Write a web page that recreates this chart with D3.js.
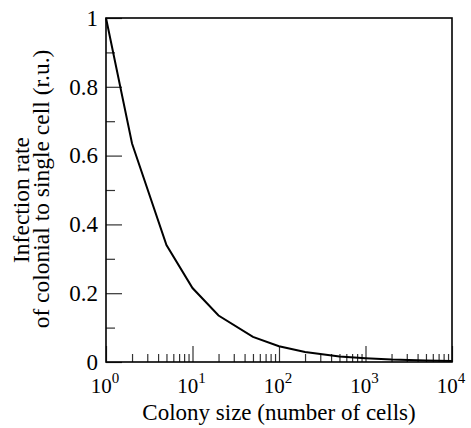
<!DOCTYPE html>
<html>
<head>
<meta charset="utf-8">
<script src="https://cdn.jsdelivr.net/npm/d3@7"></script>
<style>
html,body{margin:0;padding:0;background:#fff;}
svg{display:block;}
svg text{font-family:"Liberation Serif","DejaVu Serif","Times New Roman",Times,serif !important;fill:#000;}
</style>
</head>
<body>
<svg id="chart" width="471" height="428" font-family="Liberation Serif, DejaVu Serif, serif"></svg>
<script>
const sizes = [1, 2, 5, 10, 20, 50, 100, 200, 500, 1000, 2000, 5000, 10000];
const rates = [1, 0.635, 0.34, 0.215, 0.135, 0.073, 0.046, 0.029, 0.016, 0.011, 0.007, 0.004, 0.003];
const yMajor = [0, 0.2, 0.4, 0.6, 0.8, 1];
const yMinor = [0.1, 0.3, 0.5, 0.7, 0.9];
const yLabels = ["0", "0.2", "0.4", "0.6", "0.8", "1"];
const xMajor = [1, 10, 100, 1000, 10000];
const xExp = ["0", "1", "2", "3", "4"];
const xTitle = "Colony size (number of cells)";
const yTitle1 = "Infection rate";
const yTitle2 = "of colonial to single cell (r.u.)";

const FONT = "Liberation Serif, DejaVu Serif, serif";
const L = 106, R = 452, T = 18, B = 362;
const svg = d3.select("#chart");
const x = d3.scaleLog().domain([1, 10000]).range([L, R]);
const y = d3.scaleLinear().domain([0, 1]).range([B, T]);

const xMinor = [];
for (let d = 1; d < 10000; d *= 10) for (let k = 2; k <= 9; k++) xMinor.push(d * k);

const tickColor = "#333";
const gxMin = svg.append("g").attr("transform", `translate(0,${B})`)
  .call(d3.axisTop(x).tickValues(xMinor).tickSize(8).tickFormat(""));
const gxMaj = svg.append("g").attr("transform", `translate(0,${B})`)
  .call(d3.axisTop(x).tickValues(xMajor).tickSize(16).tickFormat(""));
const gyMin = svg.append("g").attr("transform", `translate(${L},0)`)
  .call(d3.axisRight(y).tickValues(yMinor).tickSize(9).tickFormat(""));
const gyMaj = svg.append("g").attr("transform", `translate(${L},0)`)
  .call(d3.axisRight(y).tickValues(yMajor).tickSize(16).tickFormat(""));
[gxMin, gxMaj, gyMin, gyMaj].forEach(g => {
  g.select(".domain").remove();
  g.selectAll(".tick line").attr("stroke", tickColor).attr("stroke-width", 1.2);
});

svg.append("g").selectAll("text").data(yMajor).join("text")
  .attr("font-family", FONT)
  .attr("x", 98).attr("y", d => y(d)).attr("dy", "0.34em")
  .attr("text-anchor", "end").attr("font-size", 23)
  .text((d, i) => yLabels[i]);

const xl = svg.append("g").selectAll("text").data(xMajor).join("text")
  .attr("font-family", FONT)
  .attr("x", d => x(d) - 1).attr("y", 393)
  .attr("text-anchor", "middle").attr("font-size", 21);
xl.append("tspan").text("10");
xl.append("tspan").attr("font-size", 15).attr("dy", -10).text((d, i) => xExp[i]);

svg.append("rect").attr("x", L).attr("y", T).attr("width", R - L).attr("height", B - T)
  .attr("fill", "none").attr("stroke", "#000").attr("stroke-width", 1.6);

const line = d3.line().x(d => x(d[0])).y(d => y(d[1]));
svg.append("path").datum(sizes.map((s, i) => [s, rates[i]]))
  .attr("d", line).attr("fill", "none").attr("stroke", "#000").attr("stroke-width", 2);

svg.append("text").attr("font-family", FONT).attr("x", (L + R) / 2).attr("y", 420).attr("text-anchor", "middle")
  .attr("font-size", 23).text(xTitle);
svg.append("text").attr("font-family", FONT).attr("transform", "translate(29,200) rotate(-90)").attr("text-anchor", "middle")
  .attr("font-size", 23.5).text(yTitle1);
svg.append("text").attr("font-family", FONT).attr("transform", "translate(49,189) rotate(-90)").attr("text-anchor", "middle")
  .attr("font-size", 23.5).text(yTitle2);
</script>
</body>
</html>
